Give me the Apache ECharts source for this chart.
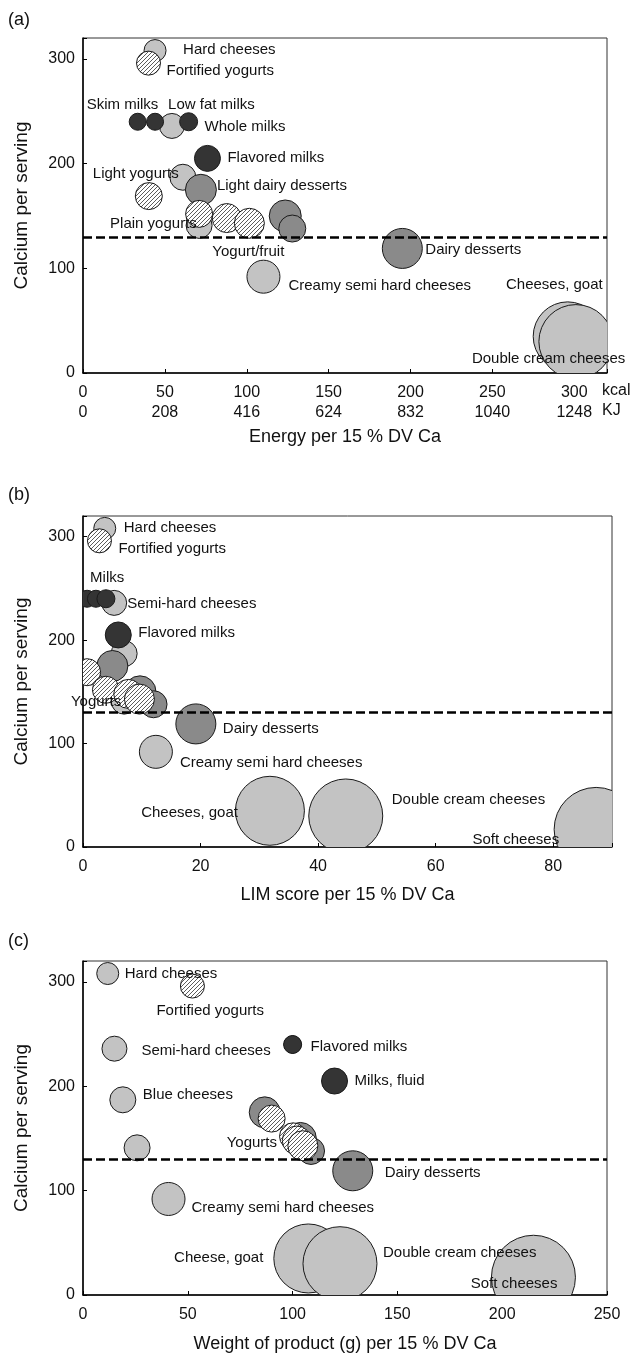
<!DOCTYPE html>
<html>

<head>
	<meta charset="UTF-8" />
	<title></title>
	<style type="text/css">
		* {
			margin: 0;
			padding: 0;
		}

		body {
			background: #fff;
		}

		#main {
			width: 636px;
			height: 1358px;
		}
	</style>
</head>

<body>
	<div id="main"></div>
</body>
<script src="https://cdn.jsdelivr.net/npm/echarts@6/dist/echarts.min.js"></script>
<script type="text/javascript">
	// products, in drawing order: cheeses, desserts, yogurts, milks
	var products = ['Hard cheeses', 'Semi-hard cheeses', 'Blue cheeses', 'Fresh cheeses', 'Creamy semi hard cheeses',
		'Cheeses, goat', 'Double cream cheeses', 'Soft cheeses',
		'Light dairy desserts', 'Dairy desserts, other', 'Dairy desserts, cream', 'Dairy desserts',
		'Fortified yogurts', 'Light yogurts', 'Plain yogurts', 'Yogurts, other', 'Yogurt/fruit',
		'Skim milks', 'Low fat milks', 'Whole milks', 'Flavored milks']
	var groups = ['cheese', 'cheese', 'cheese', 'cheese', 'cheese', 'cheese', 'cheese', 'cheese',
		'dessert', 'dessert', 'dessert', 'dessert',
		'yogurt', 'yogurt', 'yogurt', 'yogurt', 'yogurt',
		'milk', 'milk', 'milk', 'milk']
	var calcium = [308, 236, 187, 141, 92, 35, 30, 17, 175, 150, 138, 119, 296, 169, 152, 148, 143, 240, 240, 240, 205]
	var energyKcal = [44, 54.3, 61, 70.9, 110.2, 296, 301, null, 72, 123.5, 127.8, 195, 40, 40.2, 70.9, 87.8, 101.6, 33.4, 44, 64.5, 76]
	var limScore = [3.7, 5.3, 7.0, 7.0, 12.4, 31.8, 44.7, 87.3, 5.0, 9.7, 12, 19.2, 2.8, 0.7, 3.9, 7.7, 9.6, 0.7, 2.2, 3.9, 6.0]
	var weightG = [11.8, 15, 19, 25.8, 40.8, 107.5, 122.6, 214.9, 86.7, 103.7, 108.8, 128.7, 52.2, 90, 100.2, 102, 104.9, 100, 100, 100, 120]
	var bubble = [22, 25, 26, 26, 33, 69, 74, 84, 31, 32, 27, 40, 24, 27, 27, 29, 30, 17, 17, 18, 26]
	var caThreshold = 130
	var kjPerKcal = 4.16

	// labels: [product, text, dx, dy, align]
	var labelsA = [
		['Hard cheeses', 'Hard cheeses', 28, -1],
		['Fortified yogurts', 'Fortified yogurts', 18, 8],
		['Skim milks', 'Skim milks', -51, -17],
		['Low fat milks', 'Low fat milks', 13, -17],
		['Whole milks', 'Whole milks', 16, 5],
		['Flavored milks', 'Flavored milks', 20, -1],
		['Light yogurts', 'Light yogurts', -56, -22],
		['Light dairy desserts', 'Light dairy desserts', 16, -4],
		['Plain yogurts', 'Plain yogurts', -89, 10],
		['Yogurt/fruit', 'Yogurt/fruit', -37, 29],
		['Creamy semi hard cheeses', 'Creamy semi hard cheeses', 25, 9],
		['Dairy desserts', 'Dairy desserts', 23, 1],
		['Cheeses, goat', 'Cheeses, goat', 35, -52, 'right'],
		['Double cream cheeses', 'Double cream cheeses', -104, 17]
	]
	var labelsB = [
		['Hard cheeses', 'Hard cheeses', 19, -1],
		['Fortified yogurts', 'Fortified yogurts', 19, 8],
		['Skim milks', 'Milks', 3, -21],
		['Semi-hard cheeses', 'Semi-hard cheeses', 13, 1],
		['Flavored milks', 'Flavored milks', 20, -2],
		['Plain yogurts', 'Yogurts', -35, 12],
		['Dairy desserts', 'Dairy desserts', 27, 5],
		['Creamy semi hard cheeses', 'Creamy semi hard cheeses', 24, 11],
		['Cheeses, goat', 'Cheeses, goat', -32, 2, 'right'],
		['Double cream cheeses', 'Double cream cheeses', 46, -16],
		['Soft cheeses', 'Soft cheeses', -37, 10, 'right']
	]
	var labelsC = [
		['Hard cheeses', 'Hard cheeses', 17, 0],
		['Fortified yogurts', 'Fortified yogurts', -36, 25],
		['Semi-hard cheeses', 'Semi-hard cheeses', 27, 2],
		['Whole milks', 'Flavored milks', 18, 2],
		['Flavored milks', 'Milks, fluid', 20, 0],
		['Blue cheeses', 'Blue cheeses', 20, -5],
		['Plain yogurts', 'Yogurts', -16, 7, 'right'],
		['Dairy desserts', 'Dairy desserts', 32, 2],
		['Creamy semi hard cheeses', 'Creamy semi hard cheeses', 23, 9],
		['Cheeses, goat', 'Cheese, goat', -45, -1, 'right'],
		['Double cream cheeses', 'Double cream cheeses', 43, -11],
		['Soft cheeses', 'Soft cheeses', 24, 7, 'right']
	]

	var FONT = '"Liberation Sans", Arial, sans-serif'

	// hatch pattern for yogurts
	var hatch = document.createElement('canvas')
	hatch.width = 4
	hatch.height = 4
	var ctx = hatch.getContext('2d')
	ctx.fillStyle = '#fff'
	ctx.fillRect(0, 0, 4, 4)
	ctx.strokeStyle = '#4a4a4a'
	ctx.lineWidth = 0.9
	ctx.beginPath()
	ctx.moveTo(-1, 5); ctx.lineTo(5, -1)
	ctx.moveTo(-1, 1); ctx.lineTo(1, -1)
	ctx.moveTo(3, 5); ctx.lineTo(5, 3)
	ctx.stroke()

	var fills = {
		cheese: '#c3c3c3',
		dessert: '#8a8a8a',
		yogurt: { type: 'pattern', image: hatch, repeat: 'repeat' },
		milk: '#343434'
	}
	var groupOrder = ['cheese', 'dessert', 'yogurt', 'milk']

	function bubbleData(xs) {
		return products.map(function (p, i) {
			return [xs[i] == null ? NaN : xs[i], calcium[i], bubble[i], groupOrder.indexOf(groups[i])]
		})
	}

	function renderBubble(params, api) {
		var x = api.value(0)
		if (isNaN(x)) return null
		var pt = api.coord([x, api.value(1)])
		return {
			type: 'circle',
			shape: { cx: pt[0], cy: pt[1], r: api.value(2) / 2 },
			style: { fill: fills[groupOrder[api.value(3)]], stroke: '#1a1a1a', lineWidth: 1 }
		}
	}

	function labelSeries(specs, xs, idx) {
		return {
			type: 'custom',
			xAxisIndex: idx,
			yAxisIndex: idx,
			clip: false,
			z: 4,
			silent: true,
			data: specs.map(function (s) {
				var i = products.indexOf(s[0])
				return [xs[i], calcium[i]]
			}),
			renderItem: function (params, api) {
				var s = specs[params.dataIndex]
				var pt = api.coord([api.value(0), api.value(1)])
				return {
					type: 'text',
					x: pt[0] + s[2],
					y: pt[1] + s[3],
					style: {
						text: s[1],
						fill: '#111',
						font: '15px ' + FONT,
						align: s[4] || 'left',
						verticalAlign: 'middle'
					}
				}
			}
		}
	}

	function bubbleSeries(xs, idx) {
		return {
			type: 'custom',
			xAxisIndex: idx,
			yAxisIndex: idx,
			clip: true,
			z: 2,
			silent: true,
			data: bubbleData(xs),
			renderItem: renderBubble,
			markLine: {
				silent: true,
				symbol: 'none',
				label: { show: false },
				lineStyle: { color: '#000', width: 2.5, type: [9, 4] },
				data: [{ yAxis: caThreshold }]
			}
		}
	}

	function everyTick(step) {
		return function (v) {
			return v % step === 0 ? String(v) : ''
		}
	}

	function xAxis(idx, max, step, name, gap, formatter) {
		return {
			type: 'value',
			gridIndex: idx,
			min: 0,
			max: max,
			interval: step,
			name: name,
			nameLocation: 'middle',
			nameGap: gap,
			nameTextStyle: { fontSize: 18, color: '#111', fontFamily: FONT },
			axisLine: { show: true, onZero: false, lineStyle: { color: '#000', width: 1.5 } },
			axisTick: { show: true, inside: true, length: 4, lineStyle: { color: '#000' } },
			axisLabel: { margin: 10, fontSize: 16, color: '#111', fontFamily: FONT, lineHeight: 20, formatter: formatter || everyTick(step) },
			splitLine: { show: false }
		}
	}

	function yAxis(idx) {
		return {
			type: 'value',
			gridIndex: idx,
			min: 0,
			max: 320,
			interval: 100,
			name: 'Calcium per serving',
			nameLocation: 'middle',
			nameGap: 52,
			nameTextStyle: { fontSize: 19, color: '#111', fontFamily: FONT },
			axisLine: { show: true, onZero: false, lineStyle: { color: '#000', width: 1.5 } },
			axisTick: { show: true, inside: true, length: 4, lineStyle: { color: '#000' } },
			axisLabel: { margin: 8, fontSize: 16, color: '#111', fontFamily: FONT, formatter: everyTick(100) },
			splitLine: { show: false }
		}
	}

	function gridBox(top, width, height) {
		return {
			left: 83, top: top, width: width, height: height,
			show: true, borderColor: '#333', borderWidth: 1,
			containLabel: false, outerBoundsMode: 'none'
		}
	}

	function tag(text, left, top, size) {
		return {
			type: 'text', left: left, top: top,
			style: { text: text, fill: '#111', font: size + 'px ' + FONT }
		}
	}

	var myChart = echarts.init(document.getElementById('main'))

	var option = {
		backgroundColor: '#fff',
		animation: false,
		grid: [gridBox(38, 524, 335), gridBox(516, 529, 331), gridBox(961, 524, 334)],
		xAxis: [
			xAxis(0, 320, 50, 'Energy per 15 % DV Ca', 55, function (v) {
				return v % 50 === 0 ? v + '\n' + Math.round(v * kjPerKcal) : ''
			}),
			xAxis(1, 90, 20, 'LIM score per 15 % DV Ca', 39),
			xAxis(2, 250, 50, 'Weight of product (g) per 15 % DV Ca', 40)
		],
		yAxis: [yAxis(0), yAxis(1), yAxis(2)],
		graphic: [
			tag('(a)', 8, 11, 18),
			tag('(b)', 8, 486, 18),
			tag('(c)', 8, 932, 18),
			tag('kcal', 602, 383, 16),
			tag('KJ', 602, 403, 16)
		],
		series: [
			bubbleSeries(energyKcal, 0),
			labelSeries(labelsA, energyKcal, 0),
			bubbleSeries(limScore, 1),
			labelSeries(labelsB, limScore, 1),
			bubbleSeries(weightG, 2),
			labelSeries(labelsC, weightG, 2)
		]
	}
	myChart.setOption(option)
</script>

</html>
